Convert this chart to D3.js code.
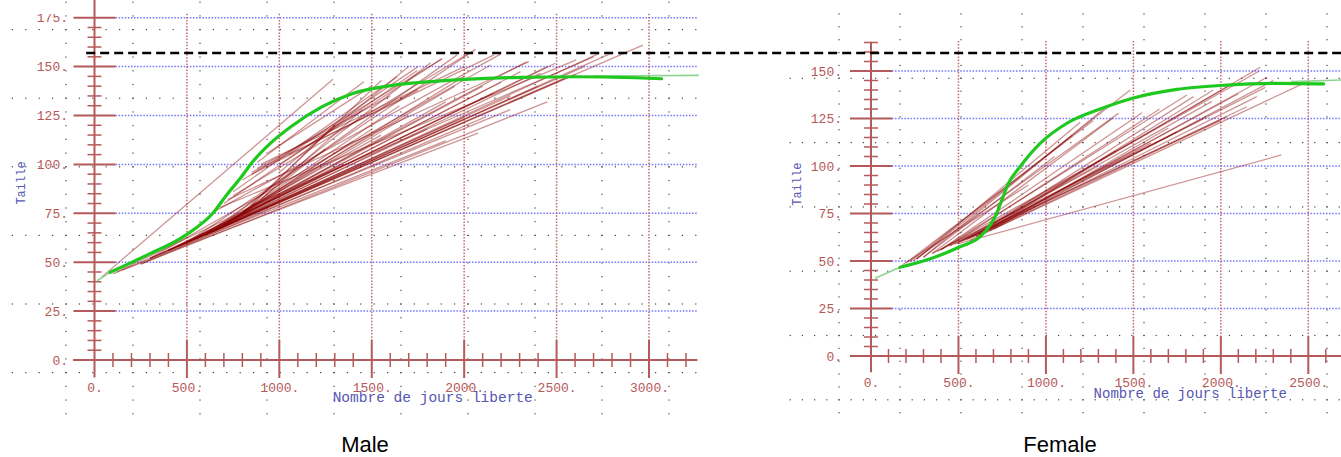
<!DOCTYPE html>
<html>
<head>
<meta charset="utf-8">
<script src="https://cdn.jsdelivr.net/npm/d3@7"></script>
<style>
  html, body { margin: 0; padding: 0; background: #fff; }
  svg { display: block; }
</style>
</head>
<body>
<svg id="chart" width="1341" height="457"></svg>
<script>
// ---------- data ----------
const maleTicksX = [0, 500, 1000, 1500, 2000, 2500, 3000];
const maleTicksY = [0, 25, 50, 75, 100, 125, 150, 175];
const femaleTicksX = [0, 500, 1000, 1500, 2000, 2500];
const femaleTicksY = [0, 25, 50, 75, 100, 125, 150];

const xTitle = "Nombre de jours liberte";
const yTitle = "Taille";
const panelNames = ["Male", "Female"];

// common reference size drawn as a dashed line across both panels
const referenceSize = 157;

// individual growth tracks: [day at tagging, size, day at recapture, size]
const maleTracks = [
  [40, 42.5, 1290, 143.5], [880, 101, 1457, 142.3], [800, 75, 1553, 143],
  [750, 86, 1638, 144.8], [700, 80, 1746, 148], [650, 66, 1818, 152],
  [800, 92, 1881, 154], [600, 64, 1962, 156], [750, 84, 2025, 156.8],
  [500, 60, 2062, 158.8], [850, 96, 2162, 156], [650, 76, 2197, 156.4],
  [500, 60, 2338, 152.5], [720, 82, 2350, 152.5], [400, 56, 2493, 151.7],
  [680, 78, 2607, 153.4], [600, 64, 2731, 156.8], [400, 56, 2967, 161],
  [150, 46, 2075, 116], [250, 49, 2120, 124.4], [550, 62, 2413, 146.5],
  [450, 58, 2540, 144], [700, 69, 2305, 147.4], [300, 52, 2143, 150.8],
  [400, 56, 2160, 136.5], [850, 79, 1300, 120], [900, 82, 1450, 128],
  [750, 72, 1500, 118], [600, 64, 1700, 125], [450, 58, 1800, 118],
  [300, 52, 1900, 112], [650, 66, 1900, 132], [800, 76, 1950, 140],
  [700, 69, 2000, 145], [550, 62, 2100, 140], [400, 56, 2250, 135],
  [600, 64, 2400, 140], [500, 60, 2600, 146], [250, 49, 2450, 132],
  [750, 72, 2200, 142], [850, 95, 1750, 138], [880, 98, 1600, 135],
  [940, 106, 1500, 140], [1000, 96, 1700, 150], [1000, 100, 1880, 154],
  [650, 66, 1650, 130], [500, 60, 1550, 115], [700, 69, 1400, 112],
  [800, 75, 1250, 108], [350, 54, 1350, 100], [550, 62, 2250, 128],
  [450, 58, 2000, 124], [750, 72, 2450, 150], [300, 52, 2650, 150],
  [850, 79, 2700, 155], [650, 66, 2800, 157], [120, 45, 1000, 85],
  [100, 44, 700, 68], [900, 100, 2000, 150], [1050, 105, 1750, 150]
];

const femaleTracks = [
  [495, 59, 2346, 105.8], [220, 49.5, 1482, 140], [240, 50, 1415, 127.7],
  [260, 51, 1196, 123], [300, 52, 1330, 130], [560, 62, 2225, 152],
  [600, 63, 2264, 146.7], [520, 60.5, 2254, 141.4], [650, 65, 2206, 136.5],
  [566, 61, 2473, 143.5], [580, 62.5, 1844, 136.5], [620, 64, 1957, 140],
  [500, 60, 2071, 143.5], [540, 61, 2149, 131.2], [680, 66, 2035, 126],
  [400, 56, 1806, 137.4], [700, 67, 1700, 120], [550, 61.5, 1600, 112],
  [600, 63, 1900, 125], [450, 58, 2000, 124], [350, 54, 1750, 118],
  [200, 49, 1271, 124], [260, 51, 1150, 116], [300, 52, 1050, 105],
  [350, 54, 1380, 125], [400, 56, 1550, 128], [450, 58, 1650, 130],
  [500, 59.5, 1950, 134], [620, 64, 2100, 138], [380, 55, 2220, 150],
  [700, 67, 2300, 145], [480, 59, 1300, 100], [650, 65, 1400, 108],
  [180, 48, 900, 90]
];

// fitted growth curves [day, size]
const maleCurve = [
  [84, 44.8], [281, 53.5], [496, 64], [640, 75], [720, 85], [790, 93],
  [844, 100], [900, 106], [960, 111.5], [1066, 119.5], [1232, 129.5],
  [1397, 136.3], [1604, 140.3], [1893, 142.8], [2307, 144.5],
  [2617, 144.8], [3068, 143.8]
];
const maleLead = [[14, 40.5], [84, 44.8]];
const maleTail = [[2700, 145.2], [3270, 145.5]];

const femaleCurve = [
  [166, 46.7], [318, 50.5], [509, 57.5], [624, 62.8], [681, 68.9],
  [719, 75.1], [748, 82.1], [786, 90.9], [852, 99.6], [967, 111.9],
  [1120, 122.5], [1310, 130], [1501, 135.8], [1749, 140.3],
  [2035, 142.6], [2321, 143.5], [2588, 143.2]
];
const femaleLead = [[23, 40.9], [166, 46.7]];
const femaleTail = [[2400, 144.4], [2700, 145.3]];

// ---------- styles ----------
const AXIS = "#b45a5a";
const LABEL = "#b65858";
const BLUE_TXT = "#5656b4";
const MONO = "'Liberation Mono', 'Courier New', monospace";

const svg = d3.select("#chart");
const W = 1341, H = 457;

// dotted "paper" grid behind a panel
function paperGrid(g, cols, colY, rows, rowX) {
  const dots = [];
  cols.forEach(cx => colY.forEach(cy => dots.push([cx, cy])));
  rows.forEach(ry => rowX.forEach(rx => dots.push([rx, ry])));
  g.selectAll("rect.dot").data(dots).join("rect")
    .attr("class", "dot")
    .attr("x", d => d[0] - 0.6).attr("y", d => d[1] - 0.6)
    .attr("width", 1.2).attr("height", 1.2)
    .attr("fill", "#444");
}

function drawPanel(p) {
  const g = svg.append("g");
  const x = d3.scaleLinear().domain(p.xDomain).range(p.xRange);
  const y = d3.scaleLinear().domain(p.yDomain).range(p.yRange);
  const x0 = x(0), y0 = y(0);

  paperGrid(g.append("g"), p.dotCols, p.dotColY, p.dotRows, p.dotRowX);

  // blue dotted horizontal grid
  g.append("g").selectAll("line").data(p.ticksY.filter(v => v > 0)).join("line")
    .attr("x1", x0 + 21).attr("x2", x(p.xExtent[1]))
    .attr("y1", d => y(d)).attr("y2", d => y(d))
    .attr("stroke", "#7474ff").attr("stroke-width", 1.5)
    .attr("stroke-dasharray", "1.5,1.6");

  // red dotted vertical grid
  g.append("g").selectAll("line").data(p.ticksX.filter(v => v > 0)).join("line")
    .attr("x1", d => x(d)).attr("x2", d => x(d))
    .attr("y1", y(p.gridTop)).attr("y2", y0 - 20)
    .attr("stroke", "#c06a6a").attr("stroke-width", 1.5)
    .attr("stroke-dasharray", "1.5,1.6");

  // axes lines
  const ax = g.append("g").attr("stroke", AXIS);
  ax.append("line")
    .attr("x1", x(p.xExtent[0])).attr("x2", x(p.xExtent[1]))
    .attr("y1", y0).attr("y2", y0).attr("stroke-width", 2);
  ax.append("line")
    .attr("x1", x0).attr("x2", x0)
    .attr("y1", y(p.yExtent[0])).attr("y2", y(p.yExtent[1])).attr("stroke-width", 2);

  // major ticks
  ax.append("g").selectAll("line").data(p.ticksX.filter(v => v > 0)).join("line")
    .attr("x1", d => x(d)).attr("x2", d => x(d))
    .attr("y1", y0 - 20).attr("y2", y0 + 18).attr("stroke-width", 2);
  ax.append("g").selectAll("line").data(p.ticksY).join("line")
    .attr("x1", x0 - 21).attr("x2", x0 + 21)
    .attr("y1", d => y(d)).attr("y2", d => y(d)).attr("stroke-width", 2);

  // minor ticks
  ax.append("g").selectAll("line").data(p.minorX).join("line")
    .attr("x1", d => x(d)).attr("x2", d => x(d))
    .attr("y1", y0 - 7).attr("y2", y0 + 7).attr("stroke-width", 1.5);
  ax.append("g").selectAll("line").data(p.minorY).join("line")
    .attr("x1", x0 - 7).attr("x2", x0 + 7)
    .attr("y1", d => y(d)).attr("y2", d => y(d)).attr("stroke-width", 1.5);

  // tick labels through d3 axes
  const fmt = d => d + ".";
  const xa = g.append("g").attr("transform", `translate(0,${y0})`)
    .call(d3.axisBottom(x).tickValues(p.ticksX).tickFormat(fmt)
      .tickSize(0).tickPadding(p.xLabelPad));
  const ya = g.append("g").attr("transform", `translate(${x0},0)`)
    .call(d3.axisLeft(y).tickValues(p.ticksY).tickFormat(fmt)
      .tickSize(0).tickPadding(p.yLabelPad));
  [xa, ya].forEach(a => {
    a.select(".domain").remove();
    a.attr("font-family", null).attr("font-size", null);
    a.selectAll("text").attr("fill", LABEL)
      .style("font-family", MONO).style("font-size", "13px");
  });
  if (p.clipTop !== undefined) {
    // the top label is cut by the plotting frame
    const id = "clip-" + p.name;
    svg.append("clipPath").attr("id", id).attr("clipPathUnits", "userSpaceOnUse")
      .append("rect")
      .attr("x", -W).attr("y", p.clipTop).attr("width", 2 * W).attr("height", H);
    ya.attr("clip-path", `url(#${id})`);
  }

  // axis titles
  g.append("text")
    .attr("x", x(p.xTitleAt)).attr("y", y0 + 42)
    .attr("text-anchor", "middle").attr("fill", BLUE_TXT)
    .style("font-family", MONO).style("font-size", p.xTitleSize + "px")
    .text(xTitle);
  g.append("text")
    .attr("transform", `translate(${x0 - 73},${y(90.5)}) rotate(-90)`)
    .attr("text-anchor", "middle").attr("dominant-baseline", "central")
    .attr("fill", BLUE_TXT)
    .style("font-family", MONO).style("font-size", "12px")
    .text(yTitle);

  // growth tracks
  g.append("g").selectAll("line").data(p.tracks).join("line")
    .attr("x1", d => x(d[0])).attr("y1", d => y(d[1]))
    .attr("x2", d => x(d[2])).attr("y2", d => y(d[3]))
    .attr("stroke", "#8b0000").attr("stroke-opacity", 0.42)
    .attr("stroke-width", 1.3);

  // fitted curve
  const line = d3.line().x(d => x(d[0])).y(d => y(d[1])).curve(d3.curveMonotoneX);
  [p.lead, p.tail].forEach(seg => {
    g.append("path").attr("d", line(seg)).attr("fill", "none")
      .attr("stroke", "#6cc46c").attr("stroke-opacity", 0.75).attr("stroke-width", 1.6);
  });
  g.append("path").attr("d", line(p.curve)).attr("fill", "none")
    .attr("stroke", "#1ec81e").attr("stroke-width", 3.2)
    .attr("stroke-linecap", "round");

  // panel caption
  svg.append("text")
    .attr("x", p.captionX).attr("y", 452)
    .attr("text-anchor", "middle").attr("fill", "#000")
    .style("font-family", "'Liberation Sans', Arial, sans-serif")
    .style("font-size", "22px")
    .text(p.name);

  return { x, y };
}

const tickStep = 100, minorStepY = 5;

const male = drawPanel({
  name: panelNames[0],
  xDomain: [0, 3000], xRange: [94.5, 649],
  yDomain: [0, 175], yRange: [360, 17.7],
  ticksX: maleTicksX, ticksY: maleTicksY,
  minorX: d3.range(tickStep, 3201, tickStep).filter(v => v % 500 !== 0),
  minorY: d3.range(minorStepY, 176, minorStepY).filter(v => v % 25 !== 0),
  xExtent: [-116, 3262], yExtent: [-9, 184.5], gridTop: 177,
  xLabelPad: 23, yLabelPad: 26.5, clipTop: 14,
  xTitleAt: 1830, xTitleSize: 14.5,
  tracks: maleTracks, curve: maleCurve, lead: maleLead, tail: maleTail,
  captionX: 365,
  dotCols: d3.range(66, 701, 67), dotColY: d3.range(2.2, 421, 13.72),
  dotRows: d3.range(29.6, 380, 68.6), dotRowX: d3.range(12.4, 701, 13.4)
});

drawPanel({
  name: panelNames[1],
  xDomain: [0, 2500], xRange: [871, 1308.3],
  yDomain: [0, 150], yRange: [356, 71],
  ticksX: femaleTicksX, ticksY: femaleTicksY,
  minorX: d3.range(tickStep, 2601, tickStep).filter(v => v % 500 !== 0),
  minorY: d3.range(minorStepY, 166, minorStepY).filter(v => v % 25 !== 0),
  xExtent: [-114, 2700], yExtent: [-8.5, 165.4], gridTop: 165.8,
  xLabelPad: 22, yLabelPad: 29,
  xTitleAt: 1825, xTitleSize: 14,
  tracks: femaleTracks, curve: femaleCurve, lead: femaleLead, tail: femaleTail,
  captionX: 1060,
  dotCols: d3.range(839, 1341, 61), dotColY: d3.range(14, 421, 12.86),
  dotRows: d3.range(78.3, 410, 64.3), dotRowX: d3.range(790.2, 1341, 12.2)
});

// dashed reference size across both panels
svg.append("line")
  .attr("x1", male.x(-45)).attr("x2", W)
  .attr("y1", male.y(referenceSize)).attr("y2", male.y(referenceSize))
  .attr("stroke", "#000").attr("stroke-width", 2.5)
  .attr("stroke-dasharray", "9,5");
</script>
</body>
</html>
